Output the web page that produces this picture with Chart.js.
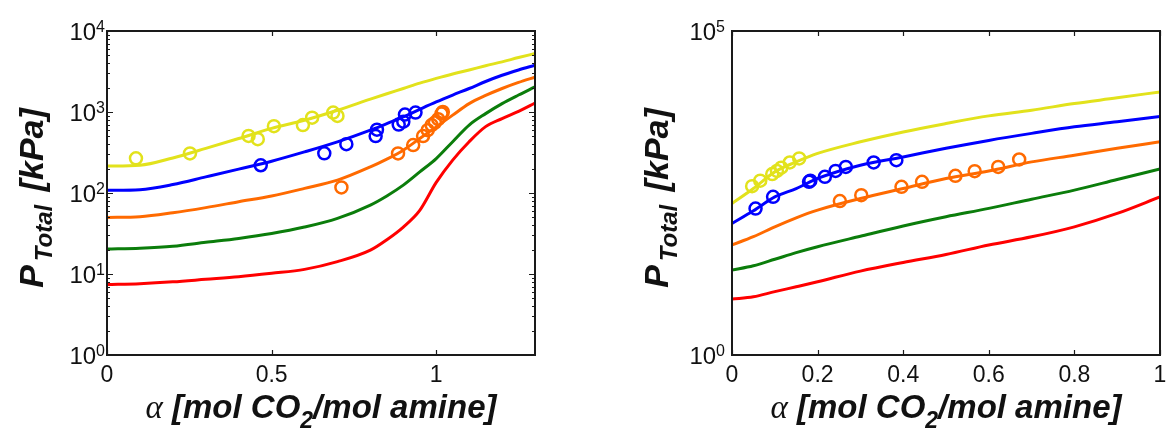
<!DOCTYPE html>
<html>
<head>
<meta charset="utf-8">
<script src="https://cdn.jsdelivr.net/npm/chart.js@4.4.0/dist/chart.umd.min.js"></script>
<style>
  html, body { margin: 0; padding: 0; background: #fff; }
  #wrap { position: relative; width: 1171px; height: 430px; }
  canvas { position: absolute; top: 0; }
</style>
</head>
<body>
<div id="wrap">
  <canvas id="left" width="600" height="430" style="left:0"></canvas>
  <canvas id="right" width="571" height="430" style="left:600px"></canvas>
</div>
<script>
// ---- left panel: model curves ----
const leftAlpha  = [0, 0.1, 0.2, 0.3, 0.4, 0.5, 0.6, 0.7, 0.8, 0.85, 0.9, 0.95, 1.0, 1.05, 1.1, 1.15, 1.2, 1.25, 1.3];
const leftYellow = [215, 220, 271, 355, 470, 627, 790, 1050, 1440, 1680, 1950, 2270, 2600, 2950, 3300, 3720, 4160, 4700, 5270];
const leftBlue   = [108, 110, 127, 158, 197, 247, 322, 428, 596, 720, 870, 1080, 1333, 1620, 1950, 2380, 2840, 3300, 3780];
const leftOrange = [50, 51, 57, 66, 78, 92, 114, 144, 210, 262, 338, 470, 655, 915, 1270, 1600, 1950, 2320, 2700];
const leftGreen  = [20.3, 20.8, 22, 24.6, 27.5, 31.6, 38, 48.7, 71, 92, 125, 182, 266, 430, 690, 955, 1270, 1620, 2040];
const leftRed    = [7.4, 7.6, 8.0, 8.6, 9.25, 10.2, 11.4, 14.2, 19.7, 26.5, 38, 61, 135, 255, 430, 660, 830, 1020, 1290];

// ---- left panel: measured points ----
const leftYellowPtX = [0.088, 0.252, 0.43, 0.458, 0.507, 0.595, 0.623, 0.687, 0.70];
const leftYellowPtY = [268, 308, 507, 462, 668, 690, 850, 985, 895];
const leftBluePtX   = [0.467, 0.66, 0.727, 0.816, 0.82, 0.886, 0.90, 0.905, 0.937];
const leftBluePtY   = [220, 309, 400, 505, 605, 700, 760, 930, 985];
const leftOrangePtX = [0.712, 0.884, 0.93, 0.96, 0.974, 0.986, 0.996, 1.006, 1.016, 1.02];
const leftOrangePtY = [117, 308, 390, 505, 596, 690, 740, 815, 955, 1000];

// ---- right panel: model curves ----
const rightAlpha  = [0, 0.05, 0.1, 0.15, 0.2, 0.3, 0.4, 0.5, 0.6, 0.7, 0.8, 0.9, 1.0];
const rightYellow = [218, 370, 670, 955, 1290, 1950, 2770, 3730, 4900, 6000, 7600, 9300, 11500];
const rightBlue   = [107, 168, 275, 370, 530, 850, 1140, 1550, 2050, 2630, 3320, 3970, 4800];
const rightOrange = [50, 67, 95, 131, 172, 260, 372, 530, 690, 955, 1210, 1550, 1950];
const rightGreen  = [20.4, 23.8, 30, 38, 46.8, 68, 98, 136, 183, 254, 350, 510, 740];
const rightRed    = [7.3, 7.9, 9.5, 11.3, 13.5, 19.7, 26.8, 35.6, 49.8, 66.6, 95, 153, 275];

// ---- right panel: measured points ----
const rightYellowPtX = [0.047, 0.066, 0.094, 0.105, 0.115, 0.135, 0.157];
const rightYellowPtY = [403, 490, 619, 694, 776, 935, 1080];
const rightBluePtX   = [0.055, 0.096, 0.18, 0.183, 0.217, 0.242, 0.266, 0.331, 0.384];
const rightBluePtY   = [182, 276, 470, 490, 562, 694, 800, 935, 1015];
const rightOrangePtX = [0.252, 0.302, 0.396, 0.444, 0.522, 0.567, 0.622, 0.671];
const rightOrangePtY = [237, 293, 394, 470, 582, 686, 800, 1040];

// tick labels
const leftXTicks  = [0, 0.5, 1];
const leftYExps   = [0, 1, 2, 3, 4];
const rightXTicks = [0, 0.2, 0.4, 0.6, 0.8, 1];
const rightYExps  = [0, 5];

const YELLOW = '#e2e21c', BLUE = '#0000ff', ORANGE = '#ff6a00', GREEN = '#0b7d0b', RED = '#ff0000';
const SANS = '"Liberation Sans", Arial, sans-serif';

function pairs(xs, ys) {
    return xs.map((x, i) => ({ x: x, y: ys[i] }));
}

function curve(xs, ys, color) {
    return {
        data: pairs(xs, ys),
        borderColor: color,
        borderWidth: 3,
        pointRadius: 0,
        cubicInterpolationMode: 'monotone',
        fill: false
    };
}

function marks(xs, ys, color) {
    return {
        data: pairs(xs, ys),
        showLine: false,
        borderColor: color,
        backgroundColor: 'rgba(0,0,0,0)',
        pointStyle: 'circle',
        pointRadius: 6,
        pointBorderWidth: 2.5
    };
}

function fmt(v) {
    return String(Math.round(v * 10) / 10);
}

// MATLAB-like box, inward ticks, 10^n labels and axis titles
const matlabAxes = {
    id: 'matlabAxes',
    afterDatasetsDraw(chart, args, o) {
        const ctx = chart.ctx, a = chart.chartArea;
        const xs = chart.scales.x, ys = chart.scales.y;
        ctx.save();
        ctx.strokeStyle = '#1a1a1a';
        ctx.fillStyle = '#111';
        ctx.lineWidth = 1.2;

        ctx.beginPath();
        o.xTicks.forEach(v => {
            const px = Math.round(xs.getPixelForValue(v)) + 0.5;
            ctx.moveTo(px, a.bottom); ctx.lineTo(px, a.bottom - 5);
            ctx.moveTo(px, a.top); ctx.lineTo(px, a.top + 5);
        });
        if (o.yMinor) {
            for (let e = o.yExps[0]; e < o.yExps[o.yExps.length - 1]; e++) {
                for (let k = 1; k <= 9; k++) {
                    const py = Math.round(ys.getPixelForValue(k * Math.pow(10, e))) + 0.5;
                    const len = k === 1 ? 6 : 3;
                    ctx.moveTo(a.left, py); ctx.lineTo(a.left + len, py);
                    ctx.moveTo(a.right, py); ctx.lineTo(a.right - len, py);
                }
            }
        }
        ctx.stroke();

        ctx.lineWidth = 2;
        ctx.strokeRect(a.left, a.top, a.right - a.left, a.bottom - a.top);

        // x tick labels
        ctx.font = '23px ' + SANS;
        ctx.textAlign = 'center';
        ctx.textBaseline = 'alphabetic';
        o.xTicks.forEach(v => {
            ctx.fillText(fmt(v), xs.getPixelForValue(v), a.bottom + 27);
        });

        // y tick labels 10^n
        o.yExps.forEach(e => {
            const py = ys.getPixelForValue(Math.pow(10, e));
            ctx.font = '16px ' + SANS;
            const ew = ctx.measureText(String(e)).width;
            const right = a.left - o.yGap;
            ctx.textAlign = 'right';
            ctx.fillText(String(e), right, py + 1);
            ctx.font = '24px ' + SANS;
            ctx.fillText('10', right - ew, py + 9);
        });

        // x axis title
        const cx = (a.left + a.right) / 2, by = a.bottom + 63;
        const big = 'italic bold 33px ' + SANS, small = 'italic bold 23px ' + SANS;
        const greek = 'italic 33px "Liberation Serif", serif';
        ctx.textAlign = 'left';
        ctx.font = greek; const w0 = ctx.measureText('\u03B1').width;
        ctx.font = big; const w1 = ctx.measureText(' [mol CO').width;
        ctx.font = small; const w2 = ctx.measureText('2').width;
        ctx.font = big; const w3 = ctx.measureText('/mol amine]').width;
        let x0 = cx - (w0 + w1 + w2 + w3) / 2;
        ctx.font = greek; ctx.fillText('\u03B1', x0, by); x0 += w0;
        ctx.font = big; ctx.fillText(' [mol CO', x0, by); x0 += w1;
        ctx.font = small; ctx.fillText('2', x0, by + 10); x0 += w2;
        ctx.font = big; ctx.fillText('/mol amine]', x0, by);

        // y axis title (rotated)
        const ybig = 'italic bold 34px ' + SANS, ysmall = 'italic bold 24px ' + SANS;
        ctx.translate(o.yTitleX, (a.top + a.bottom) / 2 + 5);
        ctx.rotate(-Math.PI / 2);
        ctx.font = ybig; const p1 = ctx.measureText('P').width + 4;
        ctx.font = ysmall; const p2 = ctx.measureText('Total').width + 4;
        ctx.font = ybig; const p3 = ctx.measureText(' [kPa]').width;
        let y0 = -(p1 + p2 + p3) / 2;
        ctx.font = ybig; ctx.fillText('P', y0, 0); y0 += p1;
        ctx.font = ysmall; ctx.fillText('Total', y0, 9); y0 += p2;
        ctx.font = ybig; ctx.fillText(' [kPa]', y0, 0);
        ctx.restore();
    }
};

function makePanel(id, datasets, xMax, yMax, pad, axisOpts) {
    return new Chart(document.getElementById(id), {
        type: 'line',
        data: { datasets: datasets },
        options: {
            responsive: false,
            animation: false,
            layout: { padding: pad },
            scales: {
                x: { type: 'linear', min: 0, max: xMax, display: false },
                y: { type: 'logarithmic', min: 1, max: yMax, display: false }
            },
            plugins: {
                legend: { display: false },
                tooltip: { enabled: false },
                matlabAxes: axisOpts
            }
        },
        plugins: [matlabAxes]
    });
}

makePanel('left', [
    marks(leftYellowPtX, leftYellowPtY, YELLOW),
    marks(leftBluePtX, leftBluePtY, BLUE),
    marks(leftOrangePtX, leftOrangePtY, ORANGE),
    curve(leftAlpha, leftYellow, YELLOW),
    curve(leftAlpha, leftBlue, BLUE),
    curve(leftAlpha, leftOrange, ORANGE),
    curve(leftAlpha, leftGreen, GREEN),
    curve(leftAlpha, leftRed, RED)
], 1.3, 1e4, { left: 107, right: 65, top: 31, bottom: 75 },
   { xTicks: leftXTicks, yExps: leftYExps, yMinor: true, yGap: 2, yTitleX: 43 });

makePanel('right', [
    marks(rightYellowPtX, rightYellowPtY, YELLOW),
    marks(rightBluePtX, rightBluePtY, BLUE),
    marks(rightOrangePtX, rightOrangePtY, ORANGE),
    curve(rightAlpha, rightYellow, YELLOW),
    curve(rightAlpha, rightBlue, BLUE),
    curve(rightAlpha, rightOrange, ORANGE),
    curve(rightAlpha, rightGreen, GREEN),
    curve(rightAlpha, rightRed, RED)
], 1, 1e5, { left: 132, right: 11, top: 31, bottom: 75 },
   { xTicks: rightXTicks, yExps: rightYExps, yMinor: false, yGap: 7, yTitleX: 668 - 600 });
</script>
</body>
</html>
